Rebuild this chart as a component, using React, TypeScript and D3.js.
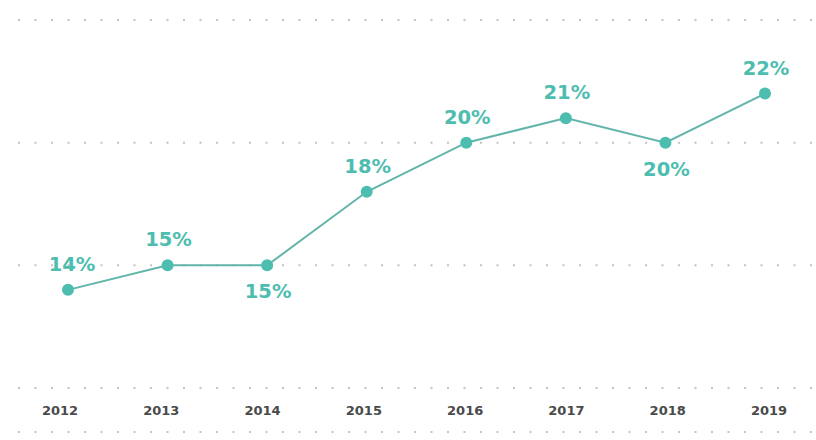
import React from "react";
import * as d3 from "d3";

const years = ["2012", "2013", "2014", "2015", "2016", "2017", "2018", "2019"];
const values = [14, 15, 15, 18, 20, 21, 20, 22];
const labelBelow = [false, false, true, false, false, false, true, false];
const gridValues = [10, 15, 20, 25];

const W = 816;
const H = 440;
const TEAL = "#4dbdaf";
const LINE = "#62b5aa";

export default function App() {
  const x = d3.scalePoint<string>().domain(years).range([68, 765]);
  const xLabel = d3.scalePoint<string>().domain(years).range([60, 769]);
  const y = d3.scaleLinear().domain([10, 25]).range([388, 20]);
  const line = d3
    .line<number>()
    .x((_, i) => x(years[i]) as number)
    .y((d) => y(d));
  const bottomGrid = y(10) + 44;
  return (
    <svg
      width={W}
      height={H}
      style={{ position: "absolute", left: 0, top: 0, background: "#fff" }}
    >
      {gridValues.map((g) => (
        <line
          key={g}
          x1={18}
          x2={W}
          y1={y(g)}
          y2={y(g)}
          stroke="#c4c4c4"
          strokeWidth={2}
          strokeDasharray="2 14.5"
        />
      ))}
      <line
        x1={18}
        x2={W}
        y1={bottomGrid}
        y2={bottomGrid}
        stroke="#c4c4c4"
        strokeWidth={2}
        strokeDasharray="2 14.5"
      />
      <path d={line(values) || ""} fill="none" stroke={LINE} strokeWidth={2} />
      {values.map((v, i) => (
        <circle key={i} cx={x(years[i])} cy={y(v)} r={6} fill={TEAL} />
      ))}
      {values.map((v, i) => (
        <text
          key={"l" + i}
          x={(x(years[i]) as number) + (i === 0 ? 4 : 1)}
          y={labelBelow[i] ? y(v) + 33 : y(v) - 19}
          textAnchor="middle"
          fill={TEAL}
          fontFamily="'DejaVu Sans', sans-serif"
          fontWeight={700}
          fontSize={19.5}
        >
          {v}%
        </text>
      ))}
      {years.map((yr) => (
        <text
          key={yr}
          x={xLabel(yr)}
          y={y(10) + 27}
          textAnchor="middle"
          fill="#4a4a4a"
          fontFamily="'DejaVu Sans', sans-serif"
          fontWeight={700}
          fontSize={13}
        >
          {yr}
        </text>
      ))}
    </svg>
  );
}
